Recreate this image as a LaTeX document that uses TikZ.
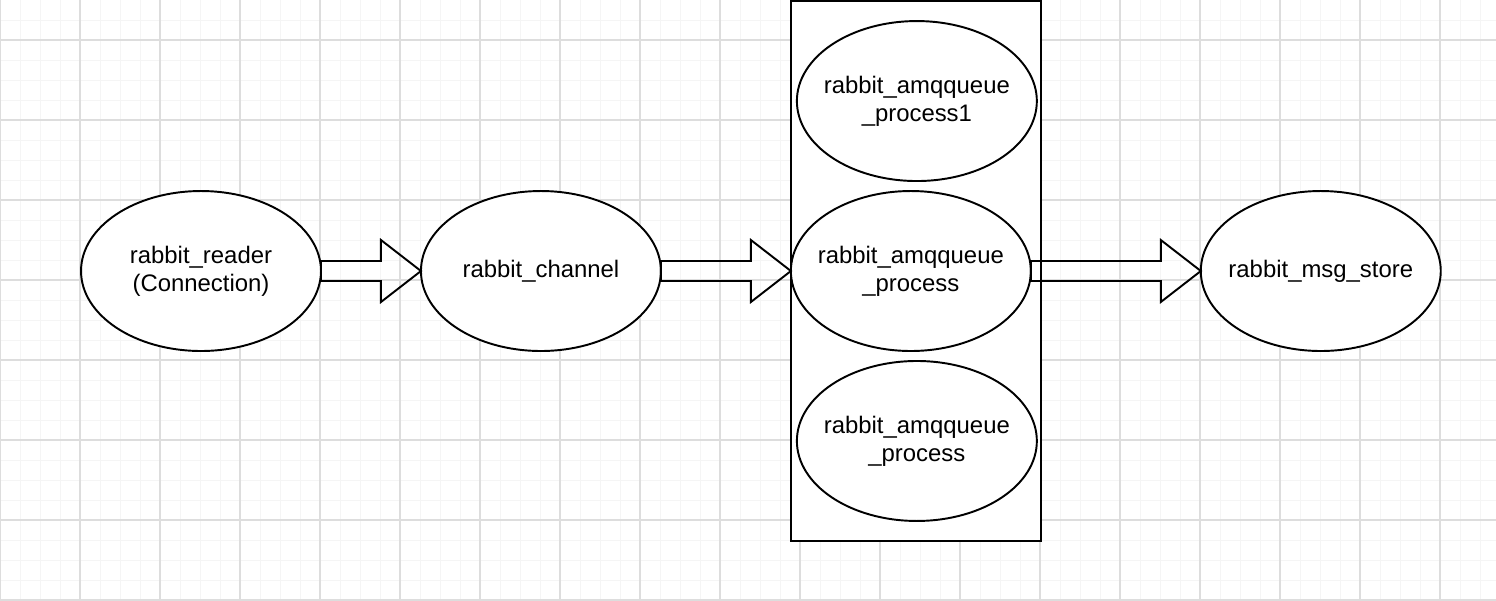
\documentclass[tikz,border=0pt]{standalone}
\usepackage{fontspec}
\setmainfont{Liberation Sans}
\usepackage{tikz}
\usetikzlibrary{shapes.geometric}
\usetikzlibrary{positioning}
\usetikzlibrary{calc}
\definecolor{gridminor}{HTML}{F5F5F5}
\definecolor{gridmajor}{HTML}{DDDDDD}
\tikzstyle{procblock} = [ellipse, minimum width=4.8cm, minimum height=3.2cm, inner xsep=-0.4cm,
  inner ysep=0pt, outer sep=0pt, align=center, draw=black, line width=1.1pt, fill=white,
  font=\fontsize{13.6}{15.9}\selectfont]
\tikzstyle{queuebox} = [rectangle, minimum width=5cm, minimum height=10.8cm, inner sep=0pt,
  outer sep=0pt, draw=black, line width=1.1pt, fill=white]
\tikzstyle{fatarrow} = [draw=black, line width=1.1pt, line join=miter]
% hollow block arrow from the east side of #1 to the west side of #2
\newcommand{\blockarrow}[2]{%
  \draw [fatarrow] ($(#1.east)+(0,-10)$) -- ($(#2.west)+(-40,-10)$) -- ($(#2.west)+(-40,-31)$)
    -- (#2.west) -- ($(#2.west)+(-40,31)$) -- ($(#2.west)+(-40,10)$) -- ($(#1.east)+(0,10)$) -- cycle;}

\begin{document}
\begin{tikzpicture}[x=0.02cm, y=-0.02cm]
  \useasboundingbox (0,0) rectangle (1496,600);
  % background grid
  \foreach \x in {20,40,...,1480} \draw [gridminor, line width=0.5pt] (\x,0) -- (\x,600);
  \foreach \y in {20,40,...,580} \draw [gridminor, line width=0.5pt] (0,\y) -- (1496,\y);
  \foreach \x in {0,80,...,1480} \draw [gridmajor, line width=0.6pt] (\x,0) -- (\x,600);
  \foreach \y in {40,120,...,600} \draw [gridmajor, line width=0.6pt] (0,\y) -- (1496,\y);

  \node (reader) [procblock] at (201,271) {rabbit\_reader\\(Connection)};
  \node (channel) [procblock, right=2cm of reader] {rabbit\_channel};
  \node (queues) [queuebox] at (916,271) {};
  \node (queue) [procblock, right=2.6cm of channel] {rabbit\_amqqueue\\\_process};
  \node (queue1) [procblock, above=0.2cm of queue, xshift=0.12cm] {rabbit\_amqqueue\\\_process1};
  \node (queue2) [procblock, below=0.2cm of queue, xshift=0.12cm] {rabbit\_amqqueue\\\_process};
  \node (store) [procblock, right=3.4cm of queue] {rabbit\_msg\_store};
  \blockarrow{reader}{channel}
  \blockarrow{channel}{queue}
  \blockarrow{queue}{store}
\end{tikzpicture}
\end{document}
